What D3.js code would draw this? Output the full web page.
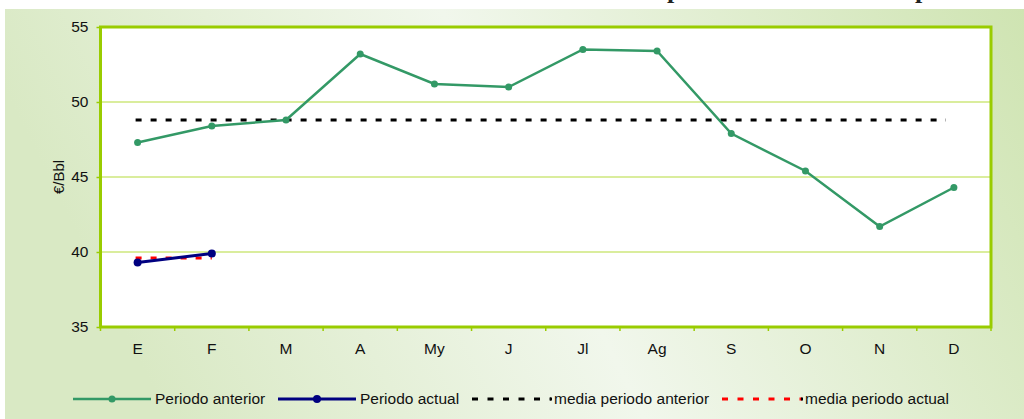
<!DOCTYPE html>
<html><head><meta charset="utf-8">
<script src="https://cdn.jsdelivr.net/npm/d3@7"></script>
<style>body{margin:0;background:#fff;}svg{display:block;font-family:Arial,"Liberation Sans",sans-serif;}</style>
</head><body>
<svg id="c" width="1024" height="419"></svg>
<script>
const categories = ["E","F","M","A","My","J","Jl","Ag","S","O","N","D"];
const periodoAnterior = [47.3,48.4,48.8,53.2,51.2,51.0,53.5,53.4,47.9,45.4,41.7,44.3];
const periodoActual = [39.3,39.9];
const mediaAnterior = 48.8;
const mediaActual = 39.6;
const yTicks = [35,40,45,50,55];
const yLabel = "€/Bbl";
const titleText = "Evolución del precio del crudo de importación";
const legendLabels = ["Periodo anterior","Periodo actual","media periodo anterior","media periodo actual"];

const svg = d3.select("#c");
const defs = svg.append("defs");
const g1 = defs.append("linearGradient").attr("id","bg").attr("x1","0").attr("y1","0.2").attr("x2","1").attr("y2","0");
[[0,"#d9e9c4"],[0.45,"#f1f7ec"],[1,"#cfe4b2"]].forEach(s=>g1.append("stop").attr("offset",s[0]).attr("stop-color",s[1]));

svg.append("rect").attr("x",5).attr("y",9).attr("width",1019).attr("height",410).attr("fill","url(#bg)");

// title (clipped by the top edge, as in the reference)
const t = svg.append("text").attr("y",-2.5).attr("font-family","'Liberation Serif','DejaVu Serif',serif")
  .attr("font-weight","bold").attr("font-size",26).attr("fill","#222").text(titleText);
const off = t.node().getSubStringLength(0, titleText.indexOf("precio"));
t.attr("x", 667 - off);

const x = d3.scaleBand().domain(categories).range([100.5,991]);
const y = d3.scaleLinear().domain([35,55]).range([327,27]);
const cx = d => x(d) + x.bandwidth()/2;

svg.append("rect").attr("x",100.5).attr("y",27).attr("width",890.5).attr("height",300).attr("fill","#fff");

// gridlines
svg.append("g").selectAll("line").data(yTicks.slice(1,-1)).join("line")
  .attr("x1",100.5).attr("x2",991).attr("y1",d=>y(d)).attr("y2",d=>y(d))
  .attr("stroke","#b5dc3c").attr("stroke-width",1.2);

// y axis
const ya = svg.append("g").attr("transform","translate(100.5,0)")
  .call(d3.axisLeft(y).tickValues(yTicks).tickSize(4).tickPadding(8).tickFormat(d3.format("d")));
ya.select(".domain").remove();
ya.selectAll(".tick line").attr("stroke","#99cc00").attr("stroke-width",1.5);
ya.selectAll("text").attr("font-size",15.5).attr("fill","#111").attr("font-family","Arial,'Liberation Sans',sans-serif");

// x axis
const xa = svg.append("g").attr("transform","translate(0,327)")
  .call(d3.axisBottom(x).tickSize(0).tickPadding(16));
xa.select(".domain").remove();
xa.selectAll("text").attr("font-size",15.5).attr("fill","#111").attr("font-family","Arial,'Liberation Sans',sans-serif");
svg.append("g").selectAll("line").data(categories.concat(["_end"])).join("line")
  .attr("x1",(d,i)=>i<12?x(d):991).attr("x2",(d,i)=>i<12?x(d):991)
  .attr("y1",327).attr("y2",331).attr("stroke","#99cc00").attr("stroke-width",1.5);

// frame
svg.append("rect").attr("x",100.5).attr("y",27).attr("width",890.5).attr("height",300)
  .attr("fill","none").attr("stroke","#99cc00").attr("stroke-width",3);

// y label
svg.append("text").attr("transform","translate(64,177) rotate(-90)").attr("text-anchor","middle")
  .attr("font-size",15).attr("fill","#111").text(yLabel);

// media lines
svg.append("line").attr("x1",cx("E")-2).attr("x2",cx("D")-8).attr("y1",y(mediaAnterior)).attr("y2",y(mediaAnterior))
  .attr("stroke","#000").attr("stroke-width",3).attr("stroke-dasharray","6,9");
svg.append("line").attr("x1",cx("E")-2).attr("x2",cx("F")).attr("y1",y(mediaActual)).attr("y2",y(mediaActual))
  .attr("stroke","#ff0000").attr("stroke-width",3).attr("stroke-dasharray","6,9");

const line = d3.line().x((d,i)=>cx(categories[i])).y(d=>y(d));
svg.append("path").attr("d",line(periodoAnterior)).attr("fill","none").attr("stroke","#339966").attr("stroke-width",2.5);
svg.append("g").selectAll("circle").data(periodoAnterior).join("circle")
  .attr("cx",(d,i)=>cx(categories[i])).attr("cy",d=>y(d)).attr("r",3.5).attr("fill","#339966");
svg.append("path").attr("d",line(periodoActual)).attr("fill","none").attr("stroke","#000080").attr("stroke-width",3);
svg.append("g").selectAll("circle").data(periodoActual).join("circle")
  .attr("cx",(d,i)=>cx(categories[i])).attr("cy",d=>y(d)).attr("r",4).attr("fill","#000080");

// legend
const ly = 399;
const leg = [
  {x1:73,x2:151,color:"#339966",w:2.5,dash:null,marker:3.5,tx:155},
  {x1:278,x2:356,color:"#000080",w:3,dash:null,marker:4,tx:360},
  {x1:472,x2:551,color:"#000",w:3,dash:"6,9.5",marker:0,tx:554},
  {x1:722,x2:802,color:"#ff0000",w:3,dash:"6,9.5",marker:0,tx:805}
];
leg.forEach((l,i)=>{
  const ln = svg.append("line").attr("x1",l.x1).attr("x2",l.x2).attr("y1",ly).attr("y2",ly)
    .attr("stroke",l.color).attr("stroke-width",l.w);
  if(l.dash) ln.attr("stroke-dasharray",l.dash);
  if(l.marker) svg.append("circle").attr("cx",(l.x1+l.x2)/2).attr("cy",ly).attr("r",l.marker).attr("fill",l.color);
  if(l.dash) svg.append("rect").attr("x",l.x2-1).attr("y",ly-1.5).attr("width",2).attr("height",3).attr("fill","#000");
  svg.append("text").attr("x",l.tx).attr("y",ly+5).attr("font-size",15.5).attr("fill","#111").text(legendLabels[i]);
});
</script>
</body></html>
